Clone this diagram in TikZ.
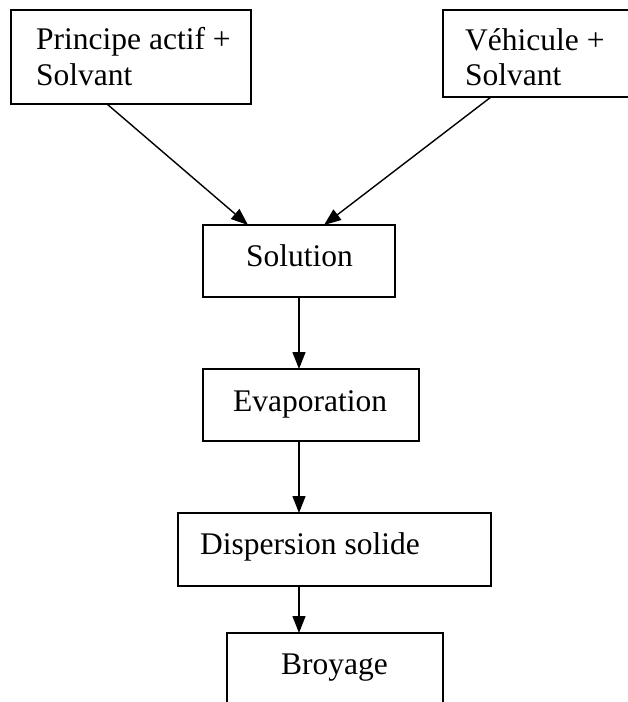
\documentclass[tikz,border=0pt]{standalone}
\usepackage{fontspec}
\setmainfont{Liberation Serif}
\usetikzlibrary{arrows.meta,calc}
\begin{document}
\begin{tikzpicture}[x=1pt,y=-1pt,
  box/.style={draw,line width=1.8pt,inner sep=0pt,outer sep=0pt},
  txt/.style={anchor=base west,inner sep=0pt,font=\fontsize{31.5}{36}\selectfont},
  arr/.style={line width=1.4pt,-{Triangle[length=17pt,width=13pt]}}]
\useasboundingbox (0,0) rectangle (628,702);
\clip (0,0) rectangle (628,702);
\node[box,minimum width=240pt,minimum height=94pt] (b1) at (131,57) {};
\node[box,minimum width=197pt,minimum height=87pt] (b2) at (541.5,53.5) {};
\node[box,minimum width=192pt,minimum height=72pt] (sol) at (299,261) {};
\node[box,minimum width=216pt,minimum height=72pt] (eva) at (311,405) {};
\node[box,minimum width=313pt,minimum height=73pt] (dis) at (334.5,549.5) {};
\node[box,minimum width=216pt,minimum height=87pt] (bro) at (335,676.5) {};
\node[txt] (t1a) at (36,49) {Principe actif +};
\node[txt] (t1b) at (36,85) {Solvant};
\node[txt] (t2a) at (465,50) {Véhicule +};
\node[txt] (t2b) at (465,85) {Solvant};
\node[txt] (t3) at (246,266) {Solution};
\node[txt] (t4) at (233,411) {Evaporation};
\node[txt] (t5) at (200,554) {Dispersion solide};
\node[txt] (t6) at (281,674) {Broyage};
\draw[arr] ([xshift=96pt]b1.south west) -- ([xshift=45pt]sol.north west);
\draw[arr] ([xshift=48pt]b2.south west) -- ([xshift=121pt]sol.north west);
\draw[arr] (sol.south) -- (sol.south |- eva.north);
\draw[arr] ([xshift=96pt]eva.south west) -- ([xshift=96pt]eva.south west |- dis.north);
\draw[arr] ([xshift=121pt]dis.south west) -- ([xshift=121pt]dis.south west |- bro.north);
\end{tikzpicture}
\end{document}
